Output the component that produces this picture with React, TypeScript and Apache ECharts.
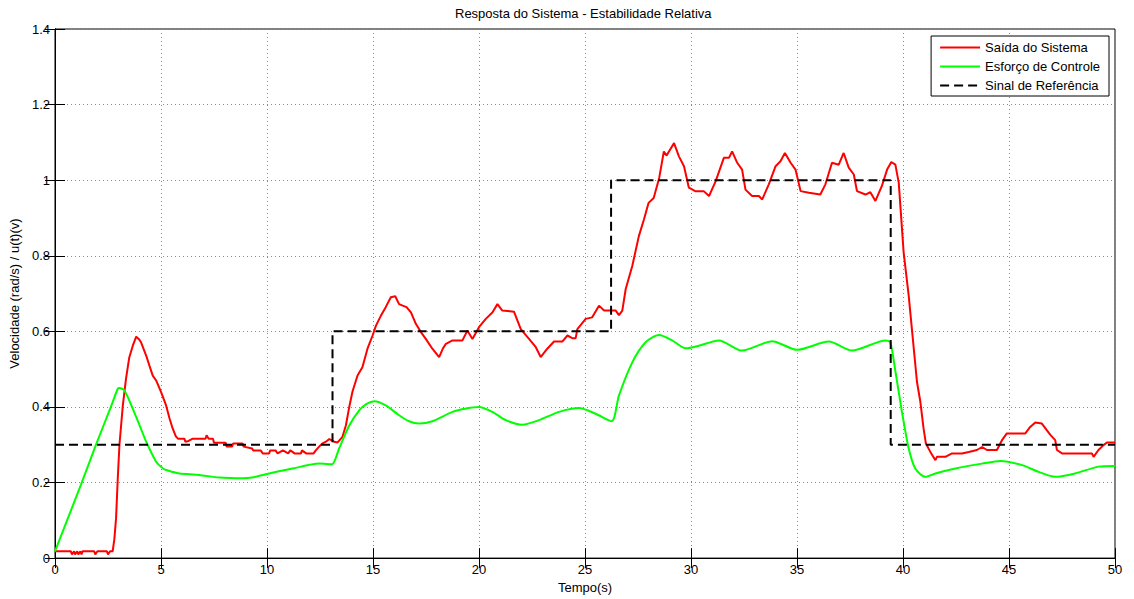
import React, { useEffect, useRef } from "react";
import * as echarts from "echarts";

// Tempo (s) and values
const saidaSistema: [number, number][] = [
  [0, 0.018], [0.75, 0.018], [0.8, 0.01], [0.9, 0.018], [0.95, 0.01], [1.05, 0.018], [1.1, 0.01],
  [1.2, 0.018], [1.25, 0.01], [1.3, 0.018], [1.85, 0.018], [1.9, 0.01], [2.0, 0.018], [2.45, 0.018],
  [2.5, 0.01], [2.6, 0.018], [2.72, 0.018], [2.8, 0.05], [2.88, 0.105], [2.96, 0.21], [3.04, 0.3],
  [3.2, 0.404], [3.35, 0.475], [3.5, 0.53], [3.67, 0.562], [3.83, 0.586], [3.95, 0.58], [4.06, 0.571],
  [4.3, 0.536], [4.45, 0.51], [4.61, 0.483], [4.77, 0.47], [5.0, 0.44], [5.24, 0.404], [5.4, 0.37],
  [5.55, 0.343], [5.7, 0.322], [5.8, 0.316], [6.1, 0.316], [6.15, 0.308], [6.3, 0.31], [6.5, 0.316],
  [7.1, 0.316], [7.15, 0.325], [7.25, 0.316], [7.45, 0.316], [7.5, 0.305], [8.05, 0.305], [8.1, 0.295],
  [8.35, 0.295], [8.4, 0.303], [8.85, 0.303], [8.9, 0.295], [9.3, 0.29], [9.35, 0.285], [9.7, 0.285],
  [9.8, 0.277], [10.1, 0.277], [10.15, 0.285], [10.4, 0.285], [10.5, 0.277], [10.75, 0.285], [11.0, 0.277],
  [11.1, 0.285], [11.3, 0.277], [11.6, 0.277], [11.65, 0.285], [11.85, 0.277], [12.2, 0.277], [12.3, 0.285],
  [12.46, 0.295], [12.6, 0.303], [12.78, 0.308], [12.94, 0.315], [13.17, 0.308], [13.33, 0.306],
  [13.56, 0.321], [13.72, 0.351], [13.88, 0.4], [14.03, 0.44], [14.27, 0.483], [14.5, 0.505],
  [14.74, 0.554], [14.98, 0.589], [15.14, 0.615], [15.37, 0.641], [15.6, 0.664], [15.84, 0.69],
  [16.05, 0.693], [16.23, 0.672], [16.4, 0.668], [16.58, 0.664], [16.79, 0.65], [17.02, 0.62],
  [17.26, 0.598], [17.49, 0.58], [17.8, 0.554], [18.12, 0.532], [18.3, 0.555], [18.44, 0.567],
  [18.75, 0.576], [19.22, 0.576], [19.45, 0.602], [19.69, 0.58], [20.0, 0.611], [20.32, 0.633],
  [20.63, 0.65], [20.87, 0.672], [21.1, 0.655], [21.65, 0.652], [21.97, 0.606], [22.36, 0.58],
  [22.68, 0.558], [22.91, 0.532], [23.22, 0.554], [23.54, 0.573], [23.93, 0.573], [24.17, 0.589],
  [24.4, 0.582], [24.56, 0.582], [24.64, 0.606], [25.03, 0.633], [25.34, 0.637], [25.66, 0.668],
  [25.9, 0.655], [26.45, 0.655], [26.6, 0.643], [26.76, 0.655], [26.92, 0.712], [27.23, 0.773],
  [27.54, 0.852], [27.78, 0.896], [28.0, 0.94], [28.24, 0.953], [28.5, 1.006], [28.72, 1.076],
  [28.85, 1.065], [28.96, 1.076], [29.2, 1.098], [29.43, 1.063], [29.67, 1.037], [29.9, 0.98],
  [30.2, 0.971], [30.6, 0.971], [30.85, 0.958], [31.16, 0.997], [31.55, 1.059], [31.79, 1.059],
  [31.94, 1.076], [32.18, 1.046], [32.41, 1.028], [32.57, 0.975], [32.88, 0.958], [33.2, 0.958],
  [33.36, 0.949], [33.67, 0.989], [33.99, 1.037], [34.22, 1.05], [34.43, 1.072], [34.7, 1.046],
  [34.93, 1.028], [35.17, 0.971], [35.56, 0.967], [36.1, 0.962], [36.34, 0.989], [36.65, 1.046],
  [36.97, 1.041], [37.2, 1.072], [37.44, 1.033], [37.68, 1.015], [37.83, 0.971], [38.23, 0.962],
  [38.46, 0.968], [38.7, 0.945], [39.0, 0.984], [39.25, 1.028], [39.45, 1.048], [39.64, 1.041],
  [39.8, 0.993], [40.03, 0.809], [40.27, 0.694], [40.42, 0.606], [40.66, 0.466], [40.82, 0.413],
  [40.97, 0.343], [41.08, 0.303], [41.29, 0.281], [41.53, 0.259], [41.6, 0.268], [42.0, 0.268],
  [42.31, 0.277], [42.78, 0.277], [43.1, 0.281], [43.49, 0.286], [43.73, 0.294], [43.96, 0.286],
  [44.43, 0.286], [44.67, 0.312], [44.9, 0.33], [45.77, 0.33], [46.0, 0.347], [46.24, 0.359],
  [46.55, 0.356], [46.79, 0.338], [46.95, 0.326], [47.18, 0.312], [47.26, 0.286], [47.5, 0.277],
  [48.91, 0.277], [48.99, 0.268], [49.22, 0.286], [49.46, 0.299], [49.62, 0.306], [50, 0.306],
];

const esforcoControle: [number, number][] = [
  [0, 0.018], [1.23, 0.195], [1.94, 0.301], [2.65, 0.402], [2.96, 0.448], [3.04, 0.45], [3.27, 0.444],
  [3.67, 0.395], [4.0, 0.35], [4.3, 0.308],
  [4.77, 0.255], [5.08, 0.238], [5.24, 0.233], [5.55, 0.228], [5.87, 0.224], [6.8, 0.22], [7.75, 0.213],
  [8.85, 0.211], [9.3, 0.213], [9.95, 0.222], [11.2, 0.237], [12.46, 0.25], [13.06, 0.248], [13.4, 0.29],
  [13.88, 0.351], [14.35, 0.391], [14.7, 0.408], [15.06, 0.415], [15.6, 0.404], [16.23, 0.378],
  [16.7, 0.362], [17.17, 0.356], [17.8, 0.362], [18.75, 0.387], [19.4, 0.396], [20.0, 0.4],
  [20.63, 0.387], [21.26, 0.365], [22.05, 0.353], [22.83, 0.365], [23.78, 0.387], [24.72, 0.397],
  [25.5, 0.382], [26.26, 0.362], [26.6, 0.43], [27.23, 0.518], [27.86, 0.571], [28.49, 0.59],
  [29.11, 0.576], [29.75, 0.555], [30.37, 0.562], [31.32, 0.576], [32.41, 0.549], [33.83, 0.574],
  [35.0, 0.551], [36.5, 0.573], [37.6, 0.549], [39.17, 0.576], [39.4, 0.571], [39.64, 0.495],
  [39.95, 0.387], [40.27, 0.29], [40.58, 0.237], [41.05, 0.215], [41.53, 0.224], [42.47, 0.237],
  [43.73, 0.25], [44.6, 0.257], [45.62, 0.246], [46.4, 0.228], [47.18, 0.215], [48.12, 0.224],
  [49.22, 0.242], [50, 0.244],
];

const sinalReferencia: [number, number][] = [
  [0, 0.3], [13.09, 0.3], [13.09, 0.6], [26.23, 0.6], [26.23, 1.0], [39.42, 1.0], [39.42, 0.3], [50, 0.3],
];

const seriesNames = ["Saída do Sistema", "Esforço de Controle", "Sinal de Referência"];
const titleText = "Resposta do Sistema - Estabilidade Relativa";
const xLabel = "Tempo(s)";
const yLabel = "Velocidade (rad/s) / u(t)(v)";

const FONT = "'Liberation Sans', Arial, sans-serif";

export default function App() {
  const ref = useRef<HTMLDivElement>(null);
  useEffect(() => {
    if (!ref.current) return;
    const chart = echarts.init(ref.current, undefined, { renderer: "svg" });
    const gridLine = { show: true, lineStyle: { color: "#8a8a8a", width: 1, type: [1, 3] as any } };
    const tick = { show: true, inside: true, length: 10, lineStyle: { color: "#000", width: 1 } };
    chart.setOption({
      animation: false,
      backgroundColor: "#fff",
      textStyle: { fontFamily: FONT },
      title: {
        text: titleText,
        left: 455,
        top: 7,
        padding: 0,
        textStyle: { fontSize: 13, fontWeight: "normal", color: "#000", fontFamily: FONT },
      },
      grid: {
        left: 55, right: 19, top: 29, bottom: 39,
        show: true, borderColor: "#000", borderWidth: 1, backgroundColor: "#fff",
      },
      legend: {
        data: seriesNames,
        orient: "vertical",
        right: 25,
        top: 36,
        itemWidth: 40,
        itemHeight: 10,
        itemGap: 6,
        padding: [5, 9, 4, 8],
        borderColor: "#000",
        borderWidth: 1,
        borderRadius: 0,
        backgroundColor: "#fff",
        itemStyle: { opacity: 0 },
        textStyle: { fontSize: 13, color: "#000", fontFamily: FONT },
      },
      xAxis: [
        {
          type: "value", min: 0, max: 50, interval: 5,
          name: xLabel, nameLocation: "middle", nameGap: 21,
          nameTextStyle: { fontSize: 13, color: "#000", fontFamily: FONT },
          axisLine: { show: true, lineStyle: { color: "#000" } },
          axisTick: tick,
          axisLabel: { color: "#000", fontSize: 13, margin: 5, fontFamily: FONT },
          splitLine: gridLine,
        },
        {
          type: "value", min: 0, max: 50, interval: 5, position: "top",
          axisLine: { show: true, lineStyle: { color: "#000" } },
          axisTick: tick, axisLabel: { show: false }, splitLine: { show: false },
        },
      ],
      yAxis: [
        {
          type: "value", min: 0, max: 1.4, interval: 0.2,
          name: yLabel, nameLocation: "middle", nameGap: 32,
          nameTextStyle: { fontSize: 13, color: "#000", fontFamily: FONT },
          axisLine: { show: true, lineStyle: { color: "#000" } },
          axisTick: tick,
          axisLabel: { color: "#000", fontSize: 13, margin: 5, fontFamily: FONT },
          splitLine: gridLine,
        },
        {
          type: "value", min: 0, max: 1.4, interval: 0.2, position: "right",
          axisLine: { show: true, lineStyle: { color: "#000" } },
          axisTick: tick, axisLabel: { show: false }, splitLine: { show: false },
        },
      ],
      series: [
        {
          name: seriesNames[0], type: "line", data: saidaSistema, symbol: "none",
          lineStyle: { color: "#ff0000", width: 2 }, itemStyle: { color: "#ff0000" },
        },
        {
          name: seriesNames[1], type: "line", data: esforcoControle, symbol: "none",
          smooth: 0.25,
          lineStyle: { color: "#00ff00", width: 2 }, itemStyle: { color: "#00ff00" },
        },
        {
          name: seriesNames[2], type: "line", data: sinalReferencia, symbol: "none",
          lineStyle: { color: "#000", width: 2, type: [9, 5] }, itemStyle: { color: "#000" },
        },
      ],
    });
    return () => chart.dispose();
  }, []);
  return (
    <div
      ref={ref}
      style={{ position: "absolute", left: 0, top: 0, width: 1134, height: 599, background: "#fff" }}
    />
  );
}
